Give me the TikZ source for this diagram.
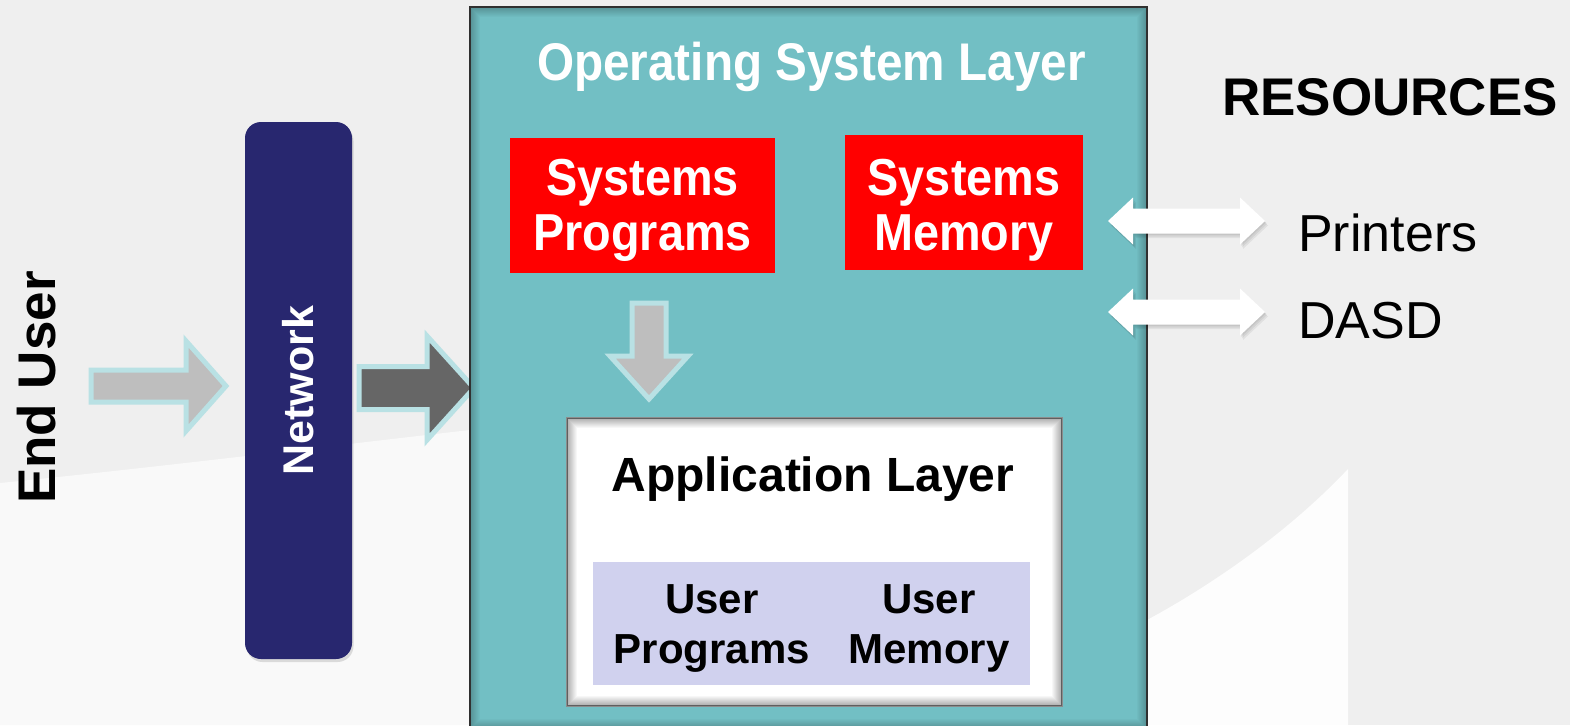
\documentclass[tikz,border=0pt]{standalone}
\usepackage{fontspec}
\setmainfont{Liberation Sans}
\newfontfamily\narrowsf{Liberation Sans}[FakeStretch=0.9]
\usepackage{graphicx}
\usetikzlibrary{calc, positioning, shadows}

\definecolor{osteal}{HTML}{72BFC4}
\definecolor{netblue}{HTML}{28276F}
\definecolor{userlav}{HTML}{D0D1EE}
\definecolor{arrowgray}{HTML}{BEBEBE}
\definecolor{arrowdark}{HTML}{666666}
\definecolor{arrowrim}{HTML}{B9E1E4}
\definecolor{bggray}{HTML}{EFEFEF}

% block arrow: tail, tip, body half width, head half width, head length, style
\newcommand{\blockarrow}[6]{%
  \coordinate (#2-base) at ($(#2)!#5!(#1)$);
  \path[#6] ($(#1)!#3!90:(#2)$) -- ($(#2-base)!#3!90:(#2)$) -- ($(#2-base)!#4!90:(#2)$) -- (#2)
    -- ($(#2-base)!#4!-90:(#2)$) -- ($(#2-base)!#3!-90:(#2)$) -- ($(#1)!#3!-90:(#2)$) -- cycle;}

% double block arrow: tip, tip, body half width, head half width, head length, style
\newcommand{\dblarrow}[6]{%
  \coordinate (#1-base) at ($(#1)!#5!(#2)$);
  \coordinate (#2-base) at ($(#2)!#5!(#1)$);
  \path[#6] (#1) -- ($(#1-base)!#4!90:(#2)$) -- ($(#1-base)!#3!90:(#2)$)
    -- ($(#2-base)!#3!90:(#2)$) -- ($(#2-base)!#4!90:(#2)$) -- (#2)
    -- ($(#2-base)!#4!-90:(#2)$) -- ($(#2-base)!#3!-90:(#2)$)
    -- ($(#1-base)!#3!-90:(#2)$) -- ($(#1-base)!#4!-90:(#2)$) -- cycle;}

\tikzset{
  osbox/.style={draw=black!75, line width=2.5pt, fill=osteal, minimum width=677pt, minimum height=722pt, inner sep=0pt},
  ostitle/.style={text=white, font=\narrowsf\bfseries\fontsize{53}{60}\selectfont, inner sep=0pt},
  sysbox/.style={fill=red, inner sep=0pt},
  systext/.style={text=white, align=center, inner sep=0pt, font=\narrowsf\bfseries\fontsize{52}{55}\selectfont},
  netbox/.style={fill=netblue, rounded corners=16pt, minimum width=107pt, minimum height=537pt, text=white,
    font=\bfseries\fontsize{43}{48}\selectfont, drop shadow={shadow xshift=1.5pt, shadow yshift=-3pt, opacity=.25}},
  appbox/.style={fill=white, draw=black!45, line width=1.5pt, minimum width=495pt, minimum height=288pt, inner sep=0pt},
  apptitle/.style={font=\bfseries\fontsize{48}{54}\selectfont, inner sep=0pt},
  userbox/.style={fill=userlav, minimum width=437pt, minimum height=123pt, inner sep=0pt},
  usertext/.style={align=center, inner sep=0pt, font=\bfseries\fontsize{42}{50}\selectfont},
  bigword/.style={font=\bfseries\fontsize{53}{60}\selectfont, inner sep=0pt},
  restext/.style={font=\fontsize{52}{60}\selectfont, inner sep=0pt},
  userarrow/.style={fill=arrowgray, draw=arrowrim, line width=5pt, line join=miter},
  netarrow/.style={fill=arrowdark, draw=arrowrim, line width=5pt, line join=miter},
  resarrow/.style={fill=white},
  resshadow/.style={fill=black, opacity=.06}
}

\begin{document}
\begin{tikzpicture}[x=1pt, y=-1pt]
  \path[use as bounding box] (0,0) rectangle (1570,725);
  \clip (0,0) rectangle (1570,725);

  % backdrop
  \fill[bggray] (0,0) rectangle (1570,725);
  \fill[white!60!bggray] (0,483) .. controls (150,468) and (330,446) .. (470,430) -- (470,725) -- (0,725) -- cycle;
  \fill[white!85!bggray] (1147,620) .. controls (1230,575) and (1300,520) .. (1348,469) -- (1348,725) -- (1147,725) -- cycle;

  % user side
  \node[bigword, rotate=90, anchor=base] (enduser) at (55,387.5) {End User};
  \coordinate (eu-tail) at (91,386);
  \coordinate (eu-tip) at (226,386);
  \blockarrow{eu-tail}{eu-tip}{16pt}{45pt}{40pt}{userarrow}

  \node[netbox] (net) at (298.5,390.5) {\rotatebox{90}{Network}};
  \coordinate (net-tail) at (359,388);
  \coordinate (net-tip) at (474,388);
  \blockarrow{net-tail}{net-tip}{21.5pt}{52pt}{47pt}{netarrow}

  % operating system layer
  \node[osbox] (os) at (808.5,368) {};
  \foreach \i [evaluate=\i as \op using {0.28*(1-\i/12)}] in {1,...,11}
    \draw[black, line width=1.1pt, opacity=\op] ($(os.north west)+(\i,\i)$) rectangle ($(os.south east)+(-\i,-\i)$);
  \node[ostitle, anchor=base] (ostitle) at (811.5,80) {Operating System Layer};

  \node[sysbox, minimum width=265pt, minimum height=135pt] (sysprog) at (642.5,205) {};
  \node[systext] at ($(sysprog)+(0,5)$) {Systems\\Programs};
  \node[sysbox, minimum width=238pt, minimum height=135pt] (sysmem) at (964,202) {};
  \node[systext] at ($(sysmem)+(0,8)$) {Systems\\Memory};

  \coordinate (sp-tail) at (649,303);
  \coordinate (sp-tip) at (649,399);
  \blockarrow{sp-tail}{sp-tip}{17pt}{39pt}{43pt}{userarrow}

  % application layer
  \node[appbox] (app) at (814.5,562) {};
  \foreach \i [evaluate=\i as \op using {0.35*(1-\i/11)}] in {1,...,10}
    \draw[black, line width=1.1pt, opacity=\op] ($(app.north west)+(\i,\i)$) rectangle ($(app.south east)+(-\i,-\i)$);
  \node[apptitle, anchor=base] (apptitle) at (813,491) {Application Layer};
  \node[userbox] (user) at (811.5,623.5) {};
  \node[usertext] (userprog) at (712,628) {User\\Programs};
  \node[usertext] (usermem) at (929,628) {User\\Memory};

  % resources
  \node[bigword, anchor=base] (res) at (1390,115) {RESOURCES};
  \node[restext, anchor=base west] (printers) at (1298,251) {Printers};
  \node[restext, anchor=base west] (dasd) at (1298,338) {DASD};

  \coordinate (prt-l) at (1108,221);
  \coordinate (prt-r) at (1265,221);
  \coordinate (dasd-l) at (1108,312);
  \coordinate (dasd-r) at (1265,312);
  \foreach \s in {1,2,3} {
    \begin{scope}[transform canvas={shift={(\s,1.5*\s)}}]
      \dblarrow{prt-l}{prt-r}{12.5pt}{23.5pt}{25pt}{resshadow}
      \dblarrow{dasd-l}{dasd-r}{12.5pt}{23.5pt}{25pt}{resshadow}
    \end{scope}
  }
  \dblarrow{prt-l}{prt-r}{12.5pt}{23.5pt}{25pt}{resarrow}
  \dblarrow{dasd-l}{dasd-r}{12.5pt}{23.5pt}{25pt}{resarrow}
\end{tikzpicture}
\end{document}
